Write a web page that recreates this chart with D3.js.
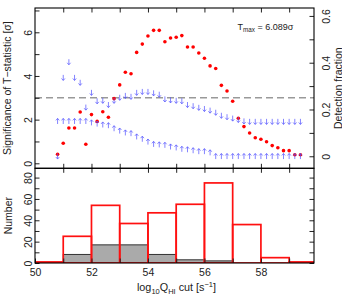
<!DOCTYPE html>
<html><head><meta charset="utf-8">
<script src="https://cdn.jsdelivr.net/npm/d3@7"></script>
<style>
body{margin:0;background:#fff}
svg{display:block}
text{font-family:"Liberation Sans",Arial,Helvetica,sans-serif;fill:#222}
</style>
</head><body>
<svg id="c" width="342" height="295"></svg>
<script>
// ---- data ----
const logQ = [50.8,51.0,51.2,51.4,51.6,51.8,52.0,52.2,52.4,52.6,52.8,53.0,53.2,53.4,53.6,53.8,54.0,54.2,54.4,54.6,54.8,55.0,55.2,55.4,55.6,55.8,56.0,56.2,56.4,56.6,56.8,57.0,57.2,57.4,57.6,57.8,58.0,58.2,58.4,58.6,58.8,59.0,59.2,59.4];
const tSigma = [0.41,0.92,1.62,1.62,2.35,0.87,2.23,1.92,2.36,2.11,2.96,3.59,4.17,4.10,5.08,5.46,5.83,6.089,6.089,5.57,5.74,5.77,5.85,5.33,5.33,5.05,4.81,4.46,4.34,3.57,3.31,2.84,2.06,1.68,1.39,1.17,1.10,0.99,0.81,0.71,0.58,0.58,0.39,0.39];
const fracUpper = [0.0,0.336,0.403,0.336,0.315,0.209,0.272,0.236,0.238,0.220,0.238,0.251,0.259,0.255,0.272,0.276,0.276,0.270,0.264,0.244,0.240,0.238,0.236,0.220,0.215,0.208,0.203,0.196,0.187,0.174,0.168,0.162,0.156,0.150,0.148,0.148,0.148,0.148,0.148,0.148,0.148,0.148,0.148,0.148];
const fracLower = [0.150,0.150,0.150,0.150,0.150,0.150,0.144,0.139,0.135,0.132,0.119,0.109,0.101,0.098,0.084,0.074,0.062,0.052,0.050,0.048,0.041,0.037,0.031,0.029,0.025,0.021,0.021,0.016,0,0,0,0,0,0,0,0,0,0,0,0,0,0,0,0];
const binLo = [50,51,52,53,54,55,56,57,58,59];
const binHi = [51,52,53,54,55,56,57,58,59,60];
const allCounts = [1,25,54,37,47,55,75,36,5,1];
const detCounts = [0,8,17,17,8,3,2,0,0,0];
const sigmaThreshold = 3;
const tMaxText = "6.089σ";
const xTicks = [51,52,53,54,55,56,57,58,59];
const xLabels = [50,52,54,56,58];
const xTicksBottom = [50,51,52,53,54,55,56,57,58,59];
const sigTicks = [0,1,2,3,4,5,6,7];
const sigLabels = [0,2,4,6];
const fracTicks = [0,0.1,0.2,0.3,0.4,0.5,0.6];
const fracLabels = [0,0.2,0.4,0.6];
const nTicks = [0,10,20,30,40,50,60,70,80];
const nLabels = [0,20,40,60,80];

// ---- layout ----
const L = 35, R = 314, T1 = 8, B1 = 168.3, B2 = 263;
const svg = d3.select("#c");
const x = d3.scaleLinear().domain([50, 59.88]).range([L, R]);
const ySig = d3.scaleLinear().domain([-0.229, 7.113]).range([B1, T1]);
const yFrac = d3.scaleLinear().domain([-0.0514, 0.6339]).range([B1, T1]);
const yN = d3.scaleLinear().domain([0, 88.7]).range([B2, B1]);

const defs = svg.append("defs");
defs.append("clipPath").attr("id","clipB")
  .append("rect").attr("x",L).attr("y",B1).attr("width",R-L).attr("height",B2-B1);
defs.append("clipPath").attr("id","clipT")
  .append("rect").attr("x",L).attr("y",T1).attr("width",R-L).attr("height",B1-T1);

// ---- histograms ----
const histG = svg.append("g").attr("clip-path","url(#clipB)");
histG.selectAll("rect.det").data(detCounts).join("rect").attr("class","det")
  .attr("x",(d,i)=>x(binLo[i])).attr("width",(d,i)=>x(binHi[i])-x(binLo[i]))
  .attr("y",d=>yN(d)).attr("height",d=>B2-yN(d))
  .attr("fill","#aaaaaa").attr("stroke","#333").attr("stroke-width",1);
histG.selectAll("rect.all").data(allCounts).join("rect").attr("class","all")
  .attr("x",(d,i)=>x(binLo[i])).attr("width",(d,i)=>x(binHi[i])-x(binLo[i]))
  .attr("y",d=>yN(d)).attr("height",d=>B2-yN(d))
  .attr("fill","none").attr("stroke","#ff1010").attr("stroke-width",1.7);

// ---- top panel marks ----
const topG = svg.append("g").attr("clip-path","url(#clipT)");
topG.append("line").attr("x1",L).attr("x2",R)
  .attr("y1",ySig(sigmaThreshold)).attr("y2",ySig(sigmaThreshold))
  .attr("stroke","#999").attr("stroke-width",1.4).attr("stroke-dasharray","7,4");
topG.selectAll("circle").data(tSigma).join("circle")
  .attr("cx",(d,i)=>x(logQ[i])).attr("cy",d=>ySig(d)).attr("r",1.8).attr("fill","#ff0000");
const arrowCol = "rgba(80,80,255,0.7)";
topG.selectAll("path.dn").data(fracUpper).join("path").attr("class","dn")
  .attr("d",(d,i)=>{const cx=x(logQ[i]), cy=yFrac(d);
    return `M${cx},${cy-2.8}V${cy+2.6}M${cx-1.7},${cy+0.8}L${cx},${cy+2.8}L${cx+1.7},${cy+0.8}`;})
  .attr("fill","none").attr("stroke",arrowCol).attr("stroke-width",1);
topG.selectAll("path.up").data(fracLower).join("path").attr("class","up")
  .attr("d",(d,i)=>{const cx=x(logQ[i]), cy=yFrac(d);
    return `M${cx},${cy+2.8}V${cy-2.6}M${cx-1.7},${cy-0.8}L${cx},${cy-2.8}L${cx+1.7},${cy-0.8}`;})
  .attr("fill","none").attr("stroke",arrowCol).attr("stroke-width",1);

// ---- axes ----
const TS = -4.5, FS = "10.5px";
function style(g){ g.select(".domain").remove(); g.selectAll(".tick line").attr("stroke","#222"); g.selectAll("text").style("font-size",FS).attr("fill","#222"); }

svg.append("g").attr("transform",`translate(0,${T1})`)
  .call(d3.axisTop(x).tickValues(xTicks).tickSize(TS).tickFormat("")).call(style);
svg.append("g").attr("transform",`translate(0,${B1})`)
  .call(d3.axisBottom(x).tickValues(xTicks).tickSize(TS).tickFormat("")).call(style);
svg.append("g").attr("transform",`translate(0,${B1})`)
  .call(d3.axisTop(x).tickValues(xTicks).tickSize(TS).tickFormat("")).call(style);
svg.append("g").attr("transform",`translate(0,${B2})`)
  .call(d3.axisBottom(x).tickValues(xTicksBottom).tickSize(TS).tickPadding(5.5)
    .tickFormat(d=>xLabels.includes(d)?d:"")).call(style);

function rotLabels(g, dx){
  g.selectAll("text").attr("x",null).attr("dy",null).attr("text-anchor","middle")
    .attr("transform",`translate(${dx},0) rotate(-90)`);
}
svg.append("g").attr("transform",`translate(${L},0)`)
  .call(d3.axisLeft(ySig).tickValues(sigTicks).tickSize(TS)
    .tickFormat(d=>sigLabels.includes(d)?d:"")).call(style).call(g=>rotLabels(g,-3));
svg.append("g").attr("transform",`translate(${R},0)`)
  .call(d3.axisRight(yFrac).tickValues(fracTicks).tickSize(TS)
    .tickFormat(d=>fracLabels.some(v=>Math.abs(v-d)<1e-9)?(d===0?"0":d3.format(".1f")(d)):"")).call(style).call(g=>rotLabels(g,16.3));
svg.append("g").attr("transform",`translate(${L},0)`)
  .call(d3.axisLeft(yN).tickValues(nTicks).tickSize(TS)
    .tickFormat(d=>nLabels.includes(d)?d:"")).call(style).call(g=>rotLabels(g,-3));
svg.append("g").attr("transform",`translate(${R},0)`)
  .call(d3.axisRight(yN).tickValues(nTicks).tickSize(TS).tickFormat("")).call(style);

// ---- frames ----
svg.append("rect").attr("x",L).attr("y",T1).attr("width",R-L).attr("height",B1-T1)
  .attr("fill","none").attr("stroke","#000").attr("stroke-width",1.1);
svg.append("rect").attr("x",L).attr("y",B1).attr("width",R-L).attr("height",B2-B1)
  .attr("fill","none").attr("stroke","#000").attr("stroke-width",1.1);

// ---- titles ----
svg.append("text").attr("transform",`translate(11.3,${(T1+B1)/2}) rotate(-90)`)
  .attr("text-anchor","middle").style("font-size",FS).text("Significance of T−statistic [σ]");
svg.append("text").attr("transform",`translate(11.5,${(B1+B2)/2}) rotate(-90)`)
  .attr("text-anchor","middle").style("font-size",FS).text("Number");
svg.append("text").attr("transform",`translate(341.5,${(T1+B1)/2}) rotate(-90)`)
  .attr("text-anchor","middle").style("font-size",FS).text("Detection fraction");

const xt = svg.append("text").attr("x",(L+R)/2+2).attr("y",291).attr("text-anchor","middle").style("font-size","10.8px");
xt.append("tspan").text("log");
xt.append("tspan").attr("dy",2.5).style("font-size","7.5px").text("10");
xt.append("tspan").attr("dy",-2.5).text("Q");
xt.append("tspan").attr("dy",2.5).style("font-size","7.5px").text("HI");
xt.append("tspan").attr("dy",-2.5).text(" cut  [s");
xt.append("tspan").attr("dy",-4).style("font-size","7.5px").text("−1");
xt.append("tspan").attr("dy",4).text("]");

const lg = svg.append("text").attr("x",237.5).attr("y",30).style("font-size","9px").attr("fill","#333");
lg.append("tspan").text("T");
lg.append("tspan").attr("dy",2.3).style("font-size","6.3px").text("max");
lg.append("tspan").attr("dy",-2.3).text(" = " + tMaxText);
</script>
</body></html>
